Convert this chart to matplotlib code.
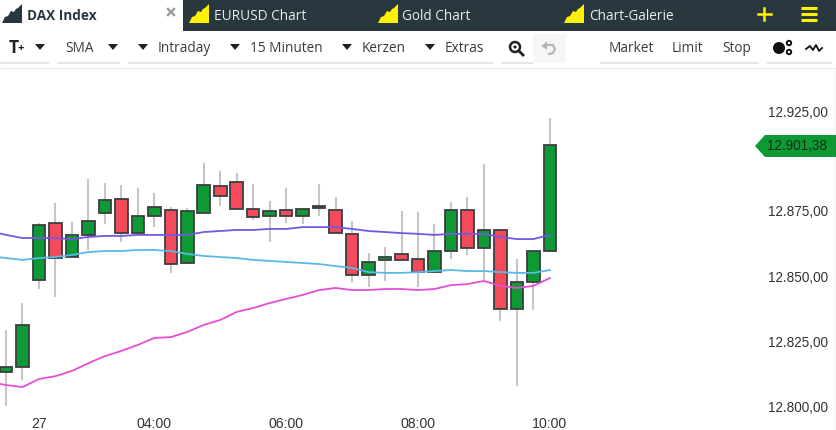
import matplotlib
matplotlib.use('Agg')
import numpy as np
import matplotlib.pyplot as plt
from matplotlib.patches import Polygon, Rectangle, Circle

# candles, 15 min bars
idx = list(range(34))
opens = [12813.1, 12815.0, 12848.5, 12870.4, 12857.3, 12865.8, 12874.2, 12879.6, 12866.5, 12873.1,
         12875.4, 12855.0, 12874.2, 12884.6, 12886.2, 12875.8, 12873.1, 12875.4, 12873.1, 12876.2,
         12875.4, 12866.2, 12850.4, 12856.2, 12858.5, 12856.5, 12851.5, 12859.6, 12875.4, 12860.8,
         12867.7, 12837.3, 12847.7, 12859.6]
closes = [12815.0, 12831.2, 12869.6, 12856.9, 12865.8, 12871.2, 12879.2, 12866.5, 12873.1, 12876.5,
          12854.6, 12875.0, 12885.0, 12880.8, 12875.8, 12872.7, 12875.0, 12873.1, 12875.8, 12876.9,
          12866.5, 12850.4, 12855.4, 12857.3, 12856.2, 12851.5, 12859.6, 12875.4, 12860.8, 12867.7,
          12837.3, 12847.7, 12859.6, 12900.4]
highs = [12829.2, 12839.6, 12870.4, 12878.1, 12870.8, 12887.3, 12885.8, 12885.0, 12883.8, 12881.9,
         12876.5, 12876.2, 12893.5, 12890.4, 12889.6, 12885.4, 12878.8, 12883.8, 12875.8, 12885.4,
         12880.4, 12871.2, 12858.8, 12861.2, 12875.0, 12874.6, 12870.0, 12878.5, 12880.4, 12893.1,
         12867.7, 12856.5, 12860.0, 12910.8]
lows = [12800.0, 12810.0, 12845.0, 12841.9, 12857.3, 12860.0, 12870.0, 12863.1, 12865.8, 12868.8,
        12851.2, 12855.0, 12874.2, 12876.9, 12875.8, 12871.5, 12863.1, 12870.4, 12870.0, 12873.1,
        12866.5, 12847.7, 12845.8, 12848.1, 12856.2, 12845.8, 12859.6, 12856.5, 12858.1, 12847.7,
        12832.7, 12807.7, 12836.9, 12859.6]

# moving averages, first point sits left of the visible area
sma_idx = list(range(-1, 34))
sma_purple = [12867.3, 12865.8, 12864.6, 12864.6, 12864.6, 12864.2, 12865.0, 12865.4, 12865.4, 12865.8,
              12865.8, 12865.8, 12865.8, 12866.9, 12867.3, 12867.7, 12867.7, 12868.1, 12868.1, 12868.8,
              12868.8, 12868.8, 12868.1, 12867.3, 12866.9, 12866.5, 12866.2, 12865.8, 12866.2, 12866.2,
              12866.2, 12865.0, 12864.2, 12864.2, 12865.8]
sma_blue = [12857.7, 12856.9, 12856.2, 12856.9, 12857.3, 12858.1, 12859.2, 12859.6, 12859.6, 12860.0,
            12860.0, 12859.6, 12858.5, 12857.7, 12857.3, 12856.9, 12856.2, 12855.8, 12855.4, 12855.0,
            12854.6, 12853.8, 12853.1, 12851.5, 12851.2, 12851.2, 12851.5, 12851.9, 12852.3, 12851.9,
            12851.9, 12851.5, 12851.2, 12851.2, 12852.3]
sma_magenta = [12809.2, 12808.1, 12807.3, 12810.4, 12811.5, 12813.5, 12816.5, 12819.2, 12821.2, 12823.5,
               12826.2, 12826.5, 12828.5, 12831.2, 12833.1, 12836.2, 12837.7, 12839.6, 12841.2, 12842.7,
               12844.6, 12845.4, 12844.6, 12844.6, 12845.0, 12845.0, 12844.6, 12845.0, 12846.5, 12846.9,
               12848.1, 12846.2, 12845.4, 12846.2, 12849.2]

price_ticks = [12800, 12825, 12850, 12875]
price_labels = ['12.800,00', '12.825,00', '12.850,00', '12.875,00']
time_ticks = [2, 9, 17, 25, 33]
time_labels = ['27', '04:00', '06:00', '08:00', '10:00']
last_price = '12.901,38'

W, H = 837, 430
DARK = '#29373e'
YELLOW = '#fff200'
GREEN = '#0d9a33'
RED = '#f44a5a'
UI_FONT = 'Open Sans'
TXT = '#3a3a3a'

fig = plt.figure(figsize=(W / 100, H / 100), dpi=100, facecolor='white')

# chart area
ax = fig.add_axes([0, (H - 411) / H, 757 / W, (411 - 70) / H])
ax.set_xlim(-6 / 16.48, (757 - 6) / 16.48)
ax.set_ylim(12798.1, 12929.2)
for s in ax.spines.values():
    s.set_visible(False)

ax.vlines(idx, lows, highs, color='#c6c6c6', lw=1.5, zorder=1)
colors = [GREEN if c >= o else RED for o, c in zip(opens, closes)]
bottoms = np.minimum(opens, closes)
heights = np.abs(np.array(closes) - np.array(opens))
ax.bar(idx, heights, bottom=bottoms, width=0.76, color=colors, edgecolor='#3a3f41', linewidth=1.3, zorder=2)

ax.plot(sma_idx, sma_purple, color='#7557e6', lw=1.3, zorder=3)
ax.plot(sma_idx, sma_blue, color='#5ab9e6', lw=1.3, zorder=3)
ax.plot(sma_idx, sma_magenta, color='#e64ed6', lw=1.3, zorder=3)

ax.yaxis.tick_right()
ax.set_yticks(price_ticks)
ax.set_yticklabels(price_labels, family='Liberation Sans', fontsize=9.75, color='#333333')
ax.set_xticks(time_ticks)
ax.set_xticklabels(time_labels, family='Liberation Sans', fontsize=10.2, color='#333333')
ax.tick_params(axis='both', length=0)
ax.tick_params(axis='y', pad=8)
ax.tick_params(axis='x', pad=4.5)

# tabs, toolbar etc. in pixel coordinates
ui = fig.add_axes([0, 0, 1, 1], zorder=5)
ui.set_xlim(0, W)
ui.set_ylim(H, 0)
ui.axis('off')
ui.patch.set_alpha(0)


def mountain(x0, color):
    pts = [(0, 23), (3, 17), (6, 16), (9, 11), (12, 12), (14, 9), (16, 8), (20, 4), (20, 23)]
    ui.add_patch(Polygon([(x0 + a, b) for a, b in pts], closed=True, fc=color, ec='none'))


def tri(x, y=47):
    ui.add_patch(Polygon([(x - 5, y - 3), (x + 5, y - 3), (x, y + 3)], closed=True, fc='#222222', ec='none'))


def label(x, y, s, **kw):
    kw.setdefault('family', UI_FONT)
    kw.setdefault('fontsize', 9.8)
    kw.setdefault('color', TXT)
    ui.text(x, y, s, va='center', ha=kw.pop('ha', 'left'), **kw)


# top bar
ui.add_patch(Rectangle((183, 0), W - 183, 31, fc=DARK, ec='none'))
mountain(2, DARK)
label(27, 16, 'DAX Index', fontweight='bold', color=DARK)
ui.plot([168, 174], [9, 15], color='#9a9fa2', lw=1.8)
ui.plot([168, 174], [15, 9], color='#9a9fa2', lw=1.8)
for x0, x1, s in [(189, 214, 'EURUSD Chart'), (378, 402, 'Gold Chart'), (564, 589, 'Chart-Galerie')]:
    mountain(x0, YELLOW)
    label(x1, 16, s, color='#e8ecee')
ui.plot([758, 771], [14, 14], color=YELLOW, lw=1.8)
ui.plot([764.5, 764.5], [8, 20], color=YELLOW, lw=1.8)
for y in [8, 14, 20]:
    ui.plot([809 - 8, 809 + 8], [y, y], color=YELLOW, lw=2.2, solid_capstyle='butt')

# toolbar
label(9, 48, 'T', fontweight='bold', fontsize=12.5, color='#222222')
label(18, 49, '+', fontweight='bold', fontsize=8, color='#222222')
for x in [40, 113, 143, 235, 347, 430]:
    tri(x)
for x, s in [(65, 'SMA'), (158, 'Intraday'), (250, '15 Minuten'), (362, 'Kerzen'), (445, 'Extras'),
             (609, 'Market'), (672, 'Limit'), (722, 'Stop')]:
    label(x, 48, s)
ui.add_patch(Rectangle((533, 34), 33, 29, fc='#f6f6f6', ec='none'))
for x0, x1 in [(0, 49), (57, 120), (128, 493), (501, 533), (600, 759), (767, 832)]:
    ui.plot([x0, x1], [63, 63], color='#e2e2e2', lw=1.2, solid_capstyle='butt')
ui.plot([0, W], [68, 68], color='#ededed', lw=1, solid_capstyle='butt')

# small icons
ui.add_patch(Circle((515, 47), 5, fc='white', ec='#222222', lw=1.8))
ui.add_patch(Circle((515, 47), 1.6, fc='#222222', ec='none'))
ui.plot([519, 523], [51, 55], color='#222222', lw=2)
ui.plot([543, 548, 553, 555, 553, 549], [46, 45, 45, 49, 53, 54], color='#b4b4b4', lw=1.5)
ui.add_patch(Polygon([(542, 46), (547, 41), (547, 50)], closed=True, fc='#b4b4b4', ec='none'))
ui.add_patch(Circle((779, 48), 6, fc='#111111', ec='none'))
ui.add_patch(Circle((789, 43), 2.2, fc='white', ec='#111111', lw=1.4))
ui.add_patch(Circle((789, 52), 2.2, fc='white', ec='#111111', lw=1.4))
ui.plot([806, 810, 813, 816, 819, 822], [49, 46, 50, 45, 51, 48], color='#111111', lw=1.3)

# odd label, sits lower than the others in the original
label(768, 113, '12.925,00', family='Liberation Sans', fontsize=9.75, color='#333333')

# last price tag
ui.add_patch(Polygon([(755, 146), (765, 135), (837, 135), (837, 157), (765, 157)], closed=True, fc=GREEN, ec='none'))
label(767, 146, last_price, family='Liberation Sans', fontsize=9.75, color='#10301c')
ui.plot([836.5, 836.5], [69, H], color='#29373e', lw=0.8)

fig.savefig('out.png', dpi=100)
